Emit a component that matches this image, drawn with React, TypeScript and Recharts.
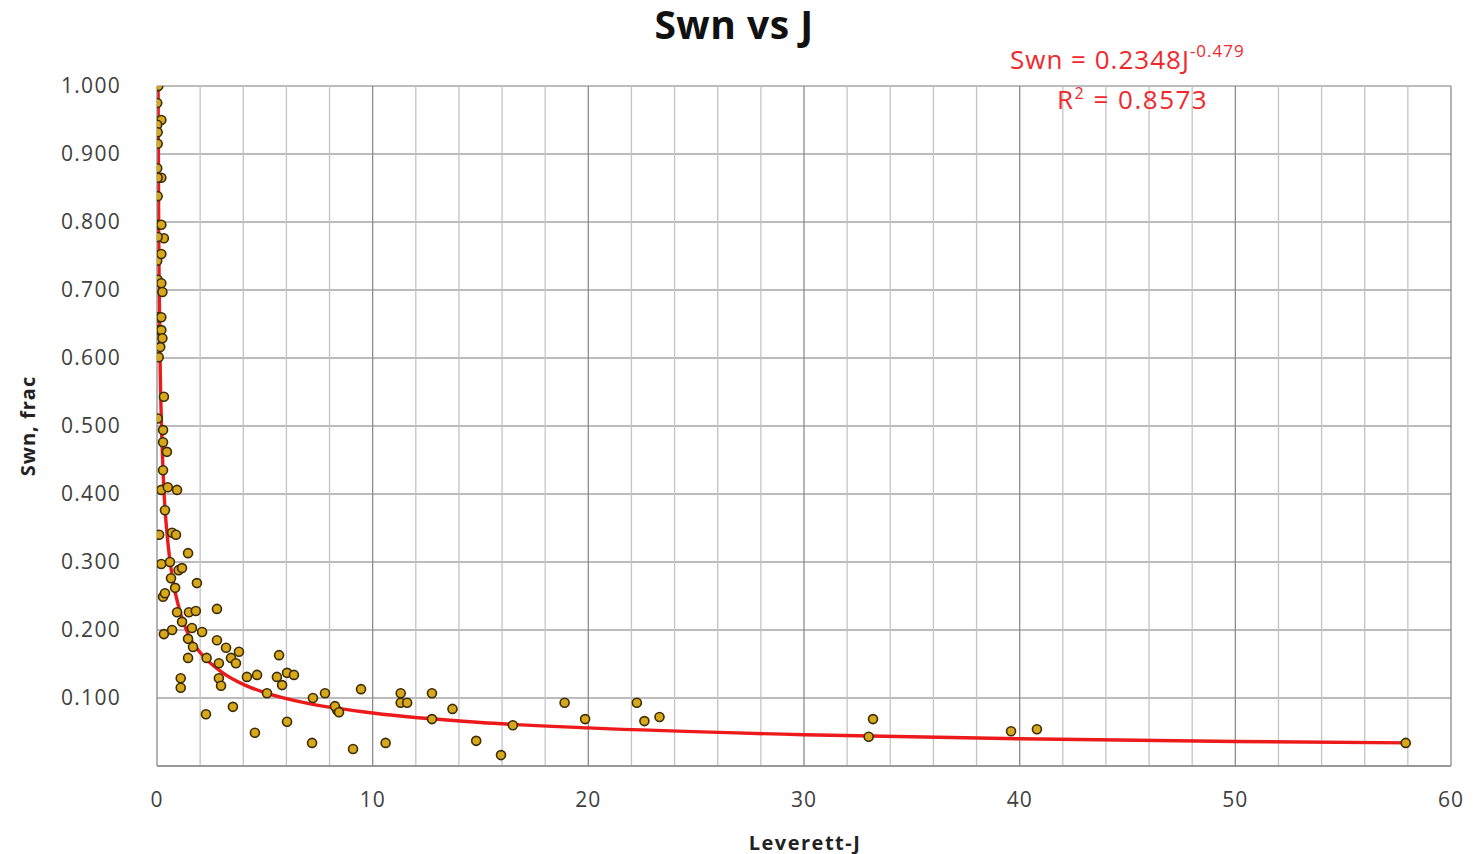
import React from 'react'
import { ComposedChart, Scatter, Line, XAxis, YAxis, CartesianGrid, ReferenceLine } from 'recharts'

// measured points: Leverett-J and normalised water saturation
const jValues = [
  0.02, 0.04, 0.06, 0.01, 0.2, 0.01, 0.03, 0.03, 0.01, 0.2, 0.03, 0.03, 0.01, 0.2, 0.32, 0.03,
  0.01, 0.2, 0.03, 0.2, 0.25, 0.03, 0.2, 0.01, 0.2, 0.25, 0.15, 0.08, 0.32, 0.03, 0.28, 0.28,
  0.46, 0.28, 0.2, 0.5, 0.93, 0.37, 0.1, 0.7, 0.88, 1.44, 0.2, 0.6, 1.0, 1.16, 0.65, 0.84,
  1.85, 0.28, 0.37, 0.93, 1.16, 1.48, 1.8, 2.78, 0.32, 0.7, 1.62, 2.09, 1.44, 1.67, 2.78, 3.2,
  3.8, 3.43, 3.66, 1.44, 2.3, 2.87, 5.66, 1.1, 1.1, 2.87, 2.97, 4.17, 4.64, 5.56, 5.8, 6.03,
  6.35, 5.1, 7.23, 7.79, 8.35, 2.27, 3.52, 4.54, 6.03, 7.19, 8.25, 8.44, 9.46, 9.09, 10.6, 11.3,
  11.3, 11.6, 12.75, 12.75, 13.7, 14.8, 15.95, 16.5, 18.9, 19.85, 22.25, 22.6, 23.3, 33.2, 33.0, 39.6,
  40.8, 57.9,
]
const swnValues = [
  1.0, 1.0, 1.0, 0.975, 0.95, 0.943, 0.932, 0.915, 0.879, 0.865, 0.865, 0.838, 0.796, 0.796, 0.776, 0.778,
  0.743, 0.753, 0.715, 0.71, 0.697, 0.66, 0.66, 0.641, 0.641, 0.629, 0.616, 0.601, 0.543, 0.511, 0.494, 0.476,
  0.462, 0.435, 0.406, 0.41, 0.406, 0.376, 0.34, 0.343, 0.34, 0.313, 0.297, 0.3, 0.288, 0.291, 0.276, 0.262,
  0.269, 0.249, 0.254, 0.226, 0.212, 0.226, 0.228, 0.231, 0.194, 0.2, 0.203, 0.197, 0.187, 0.175, 0.185, 0.174,
  0.168, 0.159, 0.151, 0.159, 0.159, 0.151, 0.163, 0.129, 0.115, 0.129, 0.118, 0.131, 0.134, 0.131, 0.119, 0.137,
  0.134, 0.107, 0.1, 0.107, 0.082, 0.076, 0.087, 0.049, 0.065, 0.034, 0.088, 0.079, 0.113, 0.025, 0.034, 0.107,
  0.093, 0.093, 0.107, 0.069, 0.084, 0.037, 0.016, 0.06, 0.093, 0.069, 0.093, 0.066, 0.072, 0.069, 0.043, 0.051,
  0.054, 0.034,
]

// power trendline
const trendJ = [0.05, 0.08, 0.1, 0.15, 0.2, 0.3, 0.5, 0.75, 1, 1.5, 2, 3, 4, 5, 7, 10, 15, 20, 30, 40, 50, 58]
const trendSwn = [1.0, 0.78, 0.71, 0.58, 0.51, 0.42, 0.33, 0.27, 0.235, 0.19, 0.167, 0.138, 0.12, 0.108, 0.092, 0.078, 0.064, 0.056, 0.046, 0.04, 0.036, 0.034]

const xTicks = [0, 10, 20, 30, 40, 50, 60]
const yTicks = [0, 0.1, 0.2, 0.3, 0.4, 0.5, 0.6, 0.7, 0.8, 0.9, 1.0]
const minorX = [2, 4, 6, 8, 12, 14, 16, 18, 22, 24, 26, 28, 32, 34, 36, 38, 42, 44, 46, 48, 52, 54, 56, 58]
const majorX = [10, 20, 30, 40, 50, 60]

const points = jValues.map((j, i) => ({ j, swn: swnValues[i] }))
const trend = trendJ.map((j, i) => ({ j, swn: trendSwn[i] }))

const FONT = '"Open Sans", sans-serif'

const Dot = (props: any) => {
  const { cx, cy } = props
  if (cx == null || cy == null) return null
  return <circle cx={cx} cy={cy} r={4.5} fill="#d9a81a" stroke="#3a2c06" strokeWidth={1.6} />
}

export default function App() {
  return (
    <div style={{ position: 'absolute', left: 0, top: 0, width: 1478, height: 854, background: '#fff', fontFamily: FONT }}>
      <ComposedChart width={1478} height={854} margin={{ top: 86, right: 27, bottom: 0, left: 0 }}>
        <CartesianGrid horizontal vertical={false} stroke="#a6a6a6" strokeWidth={1.3} />
        {minorX.map((x) => (
          <ReferenceLine key={`mn-${x}`} x={x} stroke="#c4c4c4" strokeWidth={1.3} />
        ))}
        {majorX.map((x) => (
          <ReferenceLine key={`mj-${x}`} x={x} stroke="#8c8c8c" strokeWidth={1.3} />
        ))}
        <XAxis
          type="number"
          dataKey="j"
          domain={[0, 60]}
          ticks={xTicks}
          height={88}
          axisLine={{ stroke: '#8c8c8c', strokeWidth: 1.3 }}
          tickLine={false}
          tickSize={0}
          tickMargin={26}
          tick={{ fill: '#404040', fontSize: 21, fontFamily: FONT, letterSpacing: 1 }}
          allowDataOverflow
        />
        <YAxis
          type="number"
          dataKey="swn"
          domain={[0, 1]}
          ticks={yTicks}
          width={157}
          axisLine={{ stroke: '#8c8c8c', strokeWidth: 1.3 }}
          tickLine={false}
          tickSize={0}
          tickMargin={36}
          tickFormatter={(v: number) => (v === 0 ? '' : v.toFixed(3))}
          tick={{ fill: '#404040', fontSize: 21, fontFamily: FONT, letterSpacing: 1.3 }}
          allowDataOverflow
        />
        <Line
          data={trend}
          dataKey="swn"
          type="monotone"
          stroke="#ec1a1a"
          strokeWidth={3.4}
          dot={false}
          activeDot={false}
          isAnimationActive={false}
        />
        <Scatter data={points} dataKey="swn" shape={<Dot />} isAnimationActive={false} />
      </ComposedChart>
      <div style={{ position: 'absolute', left: 0, top: 2, width: 1468, textAlign: 'center', fontSize: 39, fontWeight: 700, color: '#111', lineHeight: '44px', letterSpacing: 0.5, whiteSpace: 'nowrap' }}>
        Swn vs J
      </div>
      <div style={{ position: 'absolute', left: 1010, top: 41, fontSize: 26, letterSpacing: 1, color: '#f0282e', whiteSpace: 'nowrap' }}>
        Swn = 0.2348J<sup style={{ fontSize: 17, position: 'relative', top: -2 }}>-0.479</sup>
      </div>
      <div style={{ position: 'absolute', left: 1057, top: 81, fontSize: 26, letterSpacing: 1.5, color: '#f0282e', whiteSpace: 'nowrap' }}>
        R<sup style={{ fontSize: 16 }}>2</sup> = 0.8573
      </div>
      <div
        style={{
          position: 'absolute',
          left: 27,
          top: 426,
          transform: 'translate(-50%, -50%) rotate(-90deg)',
          fontSize: 20,
          fontWeight: 700,
          letterSpacing: 1,
          color: '#222',
          whiteSpace: 'nowrap',
        }}
      >
        Swn, frac
      </div>
      <div style={{ position: 'absolute', left: 805, top: 842, transform: 'translate(-50%, -50%)', fontSize: 20, fontWeight: 700, letterSpacing: 1.5, color: '#222', whiteSpace: 'nowrap' }}>
        Leverett-J
      </div>
    </div>
  )
}
